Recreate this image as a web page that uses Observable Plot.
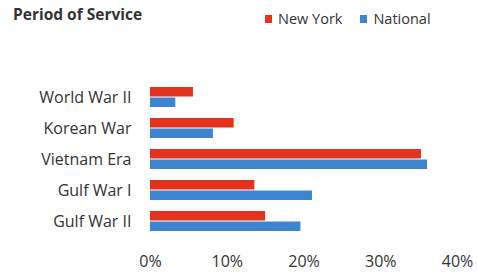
<!DOCTYPE html>
<html><head><meta charset="utf-8">
<script src="https://cdn.jsdelivr.net/npm/d3@7"></script>
<script src="https://cdn.jsdelivr.net/npm/@observablehq/plot@0.6"></script>
<style>
body{margin:0;background:#fff;font-family:"Open Sans",sans-serif;}
#wrap{position:relative;width:477px;height:275px;}
#title{position:absolute;left:13px;top:3px;font-weight:bold;font-size:15.5px;color:#333;}
#legend{position:absolute;left:265px;top:9px;font-size:14.5px;color:#333;display:flex;align-items:center;}
.sw{display:inline-block;width:7px;height:8px;margin-right:6px;}
#chart{position:absolute;left:0;top:40px;}
</style></head>
<body><div id="wrap">
<div id="title">Period of Service</div>
<div id="legend"><span class="sw" style="background:#e5321f"></span><span style="margin-right:18px">New York</span><span class="sw" style="background:#3d86cf"></span><span>National</span></div>
<div id="chart"></div>
</div>
<script>
const categories = ["World War II","Korean War","Vietnam Era","Gulf War I","Gulf War II"];
const newYork = [5.6, 10.9, 35.3, 13.6, 15.0];
const national = [3.3, 8.2, 36.1, 21.1, 19.6];
const xTicks = [0, 10, 20, 30, 40];
const series = ["New York","National"];
const colors = ["#e5321f","#3d86cf"];

const nyData = categories.map((c,i)=>({category:c, value:newYork[i]}));
const natData = categories.map((c,i)=>({category:c, value:national[i]}));

const plot = Plot.plot({
  width: 477, height: 235,
  marginLeft: 150, marginRight: 20, marginTop: 40, marginBottom: 36,
  style: {fontFamily: '"Open Sans", sans-serif', fontSize: "16px", color: "#333", background: "transparent"},
  x: {domain: [0, 40], ticks: xTicks, tickFormat: d => d + "%", label: null},
  y: {domain: categories, paddingInner: 0.34, paddingOuter: 0.17, label: null},
  marks: [
    Plot.barX(nyData, {y: "category", x: "value", fill: colors[0], insetBottom: 10.5, insetTop: 0}),
    Plot.barX(natData, {y: "category", x: "value", fill: colors[1], insetTop: 10.5, insetBottom: 0}),
    Plot.axisX({ticks: xTicks, tickFormat: d => d + "%", tickSize: 0, tickPadding: 16, fontSize: 16, label: null}),
    Plot.axisY({tickSize: 0, tickPadding: 19, fontSize: 16, label: null})
  ]
});
document.getElementById("chart").appendChild(plot);
</script>
</body></html>
